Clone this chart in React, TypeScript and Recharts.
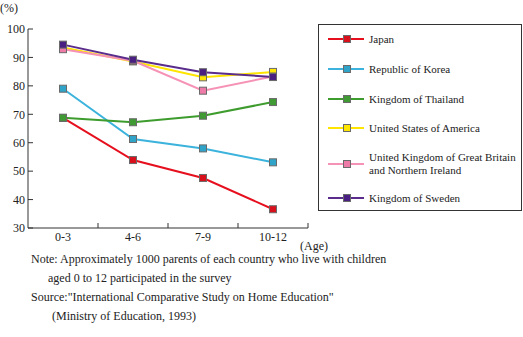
import React from 'react';
import { LineChart, Line, XAxis, YAxis, Legend } from 'recharts';

const ages = ['0-3', '4-6', '7-9', '10-12'];
const japan = [68.7, 53.9, 47.6, 36.6];
const korea = [79.0, 61.3, 58.0, 53.1];
const thailand = [68.8, 67.2, 69.5, 74.3];
const usa = [93.5, 88.6, 83.0, 84.9];
const uk = [92.9, 88.8, 78.3, 83.3];
const sweden = [94.5, 89.2, 84.8, 83.1];
const yTicks = [30, 40, 50, 60, 70, 80, 90, 100];
const noteLines = [
  'Note: Approximately 1000 parents of each country who live with children',
  'aged 0 to 12 participated in the survey',
  'Source:"International Comparative Study on Home Education"',
  '(Ministry of Education, 1993)',
];

const seriesList = [
  { key: 'japan', name: 'Japan', values: japan, line: '#e60f1e', fill: '#d8101c' },
  { key: 'korea', name: 'Republic of Korea', values: korea, line: '#3cb3dc', fill: '#30a3c9' },
  { key: 'thailand', name: 'Kingdom of Thailand', values: thailand, line: '#3d9c2d', fill: '#3f9a33' },
  { key: 'usa', name: 'United States of America', values: usa, line: '#ffe500', fill: '#ffe600' },
  { key: 'uk', name: 'United Kingdom of Great Britain and Northern Ireland', values: uk, line: '#f592b6', fill: '#ee7aa8' },
  { key: 'sweden', name: 'Kingdom of Sweden', values: sweden, line: '#5a2c8c', fill: '#4a1f82' },
];

const data = ages.map((age, i) => {
  const row: Record<string, string | number> = { age };
  seriesList.forEach((s) => {
    row[s.key] = s.values[i];
  });
  return row;
});

const font = "'Liberation Serif', serif";
const X_TICK_SIZE = 1;
const X_TICK_MARGIN = 3;

const makeDot = (fill: string) => (props: any) => {
  const { cx, cy, index } = props;
  if (cx == null || cy == null) return <g key={index} />;
  return (
    <rect
      key={index}
      x={cx - 3.5}
      y={cy - 3.5}
      width={7}
      height={7}
      fill={fill}
      stroke="#6a6a6a"
      strokeWidth={1}
    />
  );
};

const XTick = (props: any) => {
  const { x, y, payload, width, visibleTicksCount } = props;
  const bw = (Number(width) || 280) / (visibleTicksCount || 4);
  const axisY = y - X_TICK_SIZE - X_TICK_MARGIN;
  const bx = x + bw / 2;
  return (
    <g>
      <line x1={bx} x2={bx} y1={axisY} y2={axisY - 5} stroke="#333" strokeWidth={1} />
      <text x={x} y={y} dy="0.71em" textAnchor="middle" fill="#222" fontSize={12} fontFamily={font}>
        {payload.value}
      </text>
    </g>
  );
};

const LegendContent = () => (
  <div
    style={{
      boxSizing: 'border-box',
      width: 204,
      height: 187,
      border: '1px solid #333',
      background: '#fff',
      fontFamily: font,
      fontSize: 11,
      color: '#222',
      position: 'relative',
    }}
  >
    {seriesList.map((s, i) => {
      const centers = [14, 44, 74, 103, 139, 173];
      const cy = centers[i];
      return (
        <div key={s.key} style={{ position: 'absolute', left: 0, top: cy - 13, height: 26, width: 202 }}>
          <svg width={50} height={26} style={{ position: 'absolute', left: 0, top: 0 }}>
            <line x1={9} x2={45} y1={13} y2={13} stroke={s.line} strokeWidth={2} />
            <rect x={24.5} y={9.5} width={7} height={7} fill={s.fill} stroke="#6a6a6a" strokeWidth={1} />
          </svg>
          <div
            style={{
              position: 'absolute',
              left: 50,
              top: 0,
              height: 26,
              width: 151,
              display: 'flex',
              alignItems: 'center',
              lineHeight: '13px',
            }}
          >
            <span>{s.name}</span>
          </div>
        </div>
      );
    })}
  </div>
);

export default function App() {
  return (
    <div style={{ position: 'absolute', left: 0, top: 0, width: 523, height: 337, background: '#fff', fontFamily: font }}>
      <LineChart
        width={523}
        height={337}
        data={data}
        margin={{ top: 29, right: 215, bottom: 89, left: 0 }}
      >
        <XAxis
          dataKey="age"
          scale="band"
          height={20}
          stroke="#333"
          axisLine={{ stroke: '#333' }}
          tickLine={false}
          tickSize={X_TICK_SIZE}
          tickMargin={X_TICK_MARGIN}
          tick={<XTick />}
          interval={0}
        />
        <YAxis
          width={28}
          domain={[30, 100]}
          ticks={yTicks}
          tickSize={-5}
          tickMargin={8}
          stroke="#333"
          axisLine={{ stroke: '#333' }}
          tickLine={{ stroke: '#333' }}
          tick={{ fill: '#222', fontSize: 12, fontFamily: font }}
          interval={0}
        />
        <Legend
          layout="vertical"
          align="center"
          verticalAlign="middle"
          width={204}
          height={187}
          wrapperStyle={{ left: 318, top: 24, width: 204, height: 187 }}
          content={() => <LegendContent />}
        />
        {seriesList.map((s) => (
          <Line
            key={s.key}
            dataKey={s.key}
            name={s.name}
            stroke={s.line}
            strokeWidth={2}
            dot={makeDot(s.fill)}
            activeDot={false}
            isAnimationActive={false}
          />
        ))}
      </LineChart>
      <div style={{ position: 'absolute', left: 0, top: 1, fontSize: 12, lineHeight: '14px', color: '#222' }}>(%)</div>
      <div style={{ position: 'absolute', left: 300, top: 240, fontSize: 12, lineHeight: '12px', color: '#222' }}>(Age)</div>
      {noteLines.map((t, i) => (
        <div
          key={i}
          style={{
            position: 'absolute',
            left: [31, 48, 31, 52][i],
            top: 252 + i * 19,
            fontSize: 12,
            lineHeight: '14px',
            color: '#222',
            whiteSpace: 'nowrap',
          }}
        >
          {t}
        </div>
      ))}
    </div>
  );
}
